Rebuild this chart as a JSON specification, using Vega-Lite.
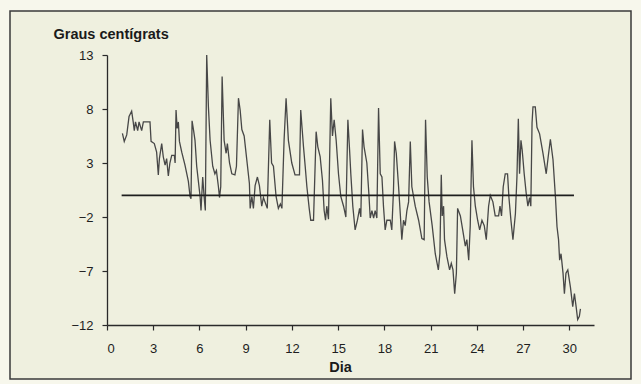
{
  "$schema": "https://vega.github.io/schema/vega-lite/v6.json",
  "width": 621,
  "height": 368,
  "padding": {"left": 10, "top": 11, "right": 10, "bottom": 5},
  "background": "#f7f7ec",
  "config": {
    "view": {"stroke": "#3a3a3a", "strokeWidth": 1.5, "fill": "#eff0df"},
    "font": "Liberation Sans",
    "axis": {
      "grid": false,
      "domainColor": "#2a2a2a",
      "domainWidth": 1.3,
      "tickColor": "#2a2a2a",
      "tickWidth": 1.2,
      "tickSize": 5,
      "labelColor": "#1e1e1e",
      "labelFont": "Liberation Sans",
      "labelFontSize": 13,
      "titleFont": "Liberation Sans",
      "titleFontSize": 14.5,
      "titleFontWeight": "bold",
      "titleColor": "#1a1a1a"
    }
  },
  "layer": [
    {
      "data": {
        "values": [
          {"dia": 1.00, "graus": 5.75}, {"dia": 1.12, "graus": 5.0}, {"dia": 1.28, "graus": 5.6}, {"dia": 1.43, "graus": 7.3},
          {"dia": 1.60, "graus": 7.8}, {"dia": 1.70, "graus": 6.8}, {"dia": 1.77, "graus": 6.0}, {"dia": 1.85, "graus": 6.8},
          {"dia": 1.99, "graus": 6.0}, {"dia": 2.08, "graus": 6.8}, {"dia": 2.25, "graus": 6.0}, {"dia": 2.36, "graus": 6.8},
          {"dia": 2.47, "graus": 6.8}, {"dia": 2.79, "graus": 6.8}, {"dia": 2.86, "graus": 5.0}, {"dia": 3.07, "graus": 4.8},
          {"dia": 3.22, "graus": 4.0}, {"dia": 3.33, "graus": 1.9}, {"dia": 3.40, "graus": 3.4}, {"dia": 3.55, "graus": 4.8},
          {"dia": 3.65, "graus": 3.6}, {"dia": 3.77, "graus": 2.8}, {"dia": 3.87, "graus": 3.4}, {"dia": 3.98, "graus": 1.8},
          {"dia": 4.08, "graus": 3.0}, {"dia": 4.20, "graus": 3.7}, {"dia": 4.37, "graus": 3.7}, {"dia": 4.42, "graus": 3.0},
          {"dia": 4.48, "graus": 7.9}, {"dia": 4.55, "graus": 6.2}, {"dia": 4.63, "graus": 6.8}, {"dia": 4.70, "graus": 5.0},
          {"dia": 4.85, "graus": 4.0}, {"dia": 5.06, "graus": 2.8}, {"dia": 5.28, "graus": 1.3}, {"dia": 5.39, "graus": -0.1},
          {"dia": 5.45, "graus": -0.3}, {"dia": 5.52, "graus": 6.9}, {"dia": 5.62, "graus": 6.0}, {"dia": 5.71, "graus": 5.1},
          {"dia": 5.82, "graus": 2.7}, {"dia": 6.04, "graus": -0.1}, {"dia": 6.10, "graus": -1.4}, {"dia": 6.21, "graus": 1.7},
          {"dia": 6.30, "graus": -0.1}, {"dia": 6.38, "graus": -1.4}, {"dia": 6.47, "graus": 13.0}, {"dia": 6.58, "graus": 8.2},
          {"dia": 6.69, "graus": 5.1}, {"dia": 6.86, "graus": 2.7}, {"dia": 7.00, "graus": 2.0}, {"dia": 7.10, "graus": 2.3},
          {"dia": 7.23, "graus": 0.8}, {"dia": 7.30, "graus": -0.2}, {"dia": 7.38, "graus": 0.8}, {"dia": 7.47, "graus": 11.0},
          {"dia": 7.60, "graus": 5.1}, {"dia": 7.73, "graus": 3.9}, {"dia": 7.81, "graus": 4.8}, {"dia": 7.95, "graus": 3.0},
          {"dia": 8.10, "graus": 2.0}, {"dia": 8.30, "graus": 1.9}, {"dia": 8.40, "graus": 2.7}, {"dia": 8.53, "graus": 9.0},
          {"dia": 8.64, "graus": 7.9}, {"dia": 8.75, "graus": 6.1}, {"dia": 8.90, "graus": 5.5}, {"dia": 9.07, "graus": 3.3},
          {"dia": 9.24, "graus": 1.1}, {"dia": 9.29, "graus": -1.2}, {"dia": 9.40, "graus": -0.1}, {"dia": 9.50, "graus": -1.2},
          {"dia": 9.61, "graus": 0.9}, {"dia": 9.76, "graus": 1.7}, {"dia": 9.89, "graus": 0.9}, {"dia": 10.04, "graus": -1.0},
          {"dia": 10.15, "graus": -0.2}, {"dia": 10.25, "graus": -0.6}, {"dia": 10.40, "graus": -1.2}, {"dia": 10.56, "graus": 7.0},
          {"dia": 10.68, "graus": 3.0}, {"dia": 10.80, "graus": 2.7}, {"dia": 10.97, "graus": -0.1}, {"dia": 11.12, "graus": -1.2},
          {"dia": 11.25, "graus": -0.8}, {"dia": 11.35, "graus": -1.2}, {"dia": 11.49, "graus": 5.1}, {"dia": 11.62, "graus": 9.0},
          {"dia": 11.77, "graus": 5.1}, {"dia": 11.99, "graus": 3.0}, {"dia": 12.20, "graus": 1.9}, {"dia": 12.49, "graus": 1.9},
          {"dia": 12.57, "graus": 7.9}, {"dia": 12.66, "graus": 6.2}, {"dia": 12.75, "graus": 4.5}, {"dia": 12.86, "graus": 2.7},
          {"dia": 12.97, "graus": 0.8}, {"dia": 13.12, "graus": -1.2}, {"dia": 13.22, "graus": -2.3}, {"dia": 13.40, "graus": -2.3},
          {"dia": 13.57, "graus": 5.9}, {"dia": 13.68, "graus": 4.5}, {"dia": 13.83, "graus": 3.6}, {"dia": 13.98, "graus": 1.4},
          {"dia": 14.09, "graus": -1.4}, {"dia": 14.18, "graus": -2.3}, {"dia": 14.26, "graus": -1.0}, {"dia": 14.37, "graus": -2.2},
          {"dia": 14.52, "graus": 9.0}, {"dia": 14.63, "graus": 5.5}, {"dia": 14.74, "graus": 7.0}, {"dia": 14.87, "graus": 5.1},
          {"dia": 15.02, "graus": 2.0}, {"dia": 15.17, "graus": -0.1}, {"dia": 15.35, "graus": -1.0}, {"dia": 15.50, "graus": -2.0},
          {"dia": 15.63, "graus": 7.0}, {"dia": 15.74, "graus": 4.2}, {"dia": 15.82, "graus": 2.0}, {"dia": 15.95, "graus": -1.0},
          {"dia": 16.10, "graus": -3.2}, {"dia": 16.25, "graus": -2.3}, {"dia": 16.39, "graus": -1.2}, {"dia": 16.47, "graus": -2.0},
          {"dia": 16.58, "graus": 6.1}, {"dia": 16.68, "graus": 4.5}, {"dia": 16.86, "graus": 3.0}, {"dia": 16.99, "graus": 0.2},
          {"dia": 17.08, "graus": -2.1}, {"dia": 17.19, "graus": -1.4}, {"dia": 17.30, "graus": -2.1}, {"dia": 17.40, "graus": -1.4},
          {"dia": 17.51, "graus": -2.1}, {"dia": 17.62, "graus": 8.1}, {"dia": 17.73, "graus": 2.0}, {"dia": 17.84, "graus": 1.7},
          {"dia": 17.94, "graus": -1.0}, {"dia": 18.05, "graus": -3.2}, {"dia": 18.16, "graus": -2.3}, {"dia": 18.38, "graus": -2.3},
          {"dia": 18.48, "graus": -3.2}, {"dia": 18.59, "graus": 0.5}, {"dia": 18.66, "graus": 5.0}, {"dia": 18.77, "graus": 3.9},
          {"dia": 18.92, "graus": 0.8}, {"dia": 19.03, "graus": -1.7}, {"dia": 19.13, "graus": -4.1}, {"dia": 19.24, "graus": -2.3},
          {"dia": 19.35, "graus": -2.8}, {"dia": 19.46, "graus": -1.4}, {"dia": 19.57, "graus": -0.6}, {"dia": 19.68, "graus": 5.0},
          {"dia": 19.78, "graus": 0.8}, {"dia": 20.00, "graus": -1.0}, {"dia": 20.22, "graus": -2.3}, {"dia": 20.43, "graus": -4.0},
          {"dia": 20.58, "graus": -4.1}, {"dia": 20.67, "graus": 7.0}, {"dia": 20.78, "graus": 1.7}, {"dia": 20.90, "graus": -0.6},
          {"dia": 21.10, "graus": -2.8}, {"dia": 21.30, "graus": -5.4}, {"dia": 21.50, "graus": -6.9}, {"dia": 21.60, "graus": -5.4},
          {"dia": 21.69, "graus": 1.9}, {"dia": 21.75, "graus": -1.9}, {"dia": 21.84, "graus": -1.0}, {"dia": 21.90, "graus": -4.1},
          {"dia": 22.06, "graus": -5.7}, {"dia": 22.23, "graus": -6.9}, {"dia": 22.34, "graus": -6.3}, {"dia": 22.45, "graus": -6.9},
          {"dia": 22.56, "graus": -9.1}, {"dia": 22.67, "graus": -7.2}, {"dia": 22.75, "graus": -1.2}, {"dia": 22.93, "graus": -1.9},
          {"dia": 23.08, "graus": -3.2}, {"dia": 23.25, "graus": -4.7}, {"dia": 23.35, "graus": -4.1}, {"dia": 23.47, "graus": -6.0},
          {"dia": 23.57, "graus": -2.8}, {"dia": 23.68, "graus": 5.1}, {"dia": 23.78, "graus": 0.8}, {"dia": 23.90, "graus": -1.0},
          {"dia": 24.05, "graus": -2.3}, {"dia": 24.18, "graus": -3.2}, {"dia": 24.33, "graus": -2.3}, {"dia": 24.48, "graus": -2.8},
          {"dia": 24.61, "graus": -4.1}, {"dia": 24.76, "graus": -1.0}, {"dia": 24.87, "graus": 0.0}, {"dia": 25.04, "graus": -0.6},
          {"dia": 25.19, "graus": -1.9}, {"dia": 25.41, "graus": -1.9}, {"dia": 25.50, "graus": -1.0}, {"dia": 25.60, "graus": -1.9},
          {"dia": 25.71, "graus": 0.8}, {"dia": 25.84, "graus": 2.0}, {"dia": 25.99, "graus": 2.0}, {"dia": 26.08, "graus": -0.2},
          {"dia": 26.21, "graus": -2.3}, {"dia": 26.34, "graus": -4.1}, {"dia": 26.50, "graus": -1.7}, {"dia": 26.60, "graus": 1.7},
          {"dia": 26.69, "graus": 7.1}, {"dia": 26.77, "graus": 2.0}, {"dia": 26.86, "graus": 5.1}, {"dia": 26.94, "graus": 4.2},
          {"dia": 27.07, "graus": 2.0}, {"dia": 27.20, "graus": 0.2}, {"dia": 27.31, "graus": -1.0}, {"dia": 27.42, "graus": -0.2},
          {"dia": 27.50, "graus": -1.0}, {"dia": 27.58, "graus": 6.7}, {"dia": 27.64, "graus": 8.2}, {"dia": 27.79, "graus": 8.2},
          {"dia": 27.90, "graus": 6.3}, {"dia": 28.07, "graus": 5.7}, {"dia": 28.29, "graus": 3.9}, {"dia": 28.50, "graus": 2.0},
          {"dia": 28.63, "graus": 3.6}, {"dia": 28.77, "graus": 5.2}, {"dia": 28.94, "graus": 3.3}, {"dia": 29.10, "graus": -0.2},
          {"dia": 29.20, "graus": -2.9}, {"dia": 29.30, "graus": -4.1}, {"dia": 29.37, "graus": -6.0}, {"dia": 29.46, "graus": -5.4},
          {"dia": 29.59, "graus": -7.2}, {"dia": 29.68, "graus": -9.1}, {"dia": 29.78, "graus": -7.2}, {"dia": 29.90, "graus": -6.9},
          {"dia": 30.07, "graus": -8.5}, {"dia": 30.22, "graus": -10.3}, {"dia": 30.33, "graus": -9.1}, {"dia": 30.44, "graus": -10.3},
          {"dia": 30.54, "graus": -11.5}, {"dia": 30.65, "graus": -11.2}, {"dia": 30.72, "graus": -10.5}
        ]
      },
      "mark": {"type": "line", "color": "#474747", "strokeWidth": 1.3, "interpolate": "linear"},
      "encoding": {
        "x": {
          "field": "dia", "type": "quantitative",
          "scale": {"domain": [0, 31.6], "range": [97, 584], "nice": false, "zero": false},
          "axis": {
            "title": "Dia", "values": [0, 3, 6, 9, 12, 15, 18, 21, 24, 27, 30],
            "offset": -54, "labelPadding": 12,
            "titleX": 330, "titleY": 46, "titleAlign": "center", "titleBaseline": "alphabetic"
          }
        },
        "y": {
          "field": "graus", "type": "quantitative",
          "scale": {"domain": [-12, 13], "range": [314, 44], "nice": false, "zero": false},
          "axis": {
            "title": "Graus centígrats", "values": [-12, -7, -2, 3, 8, 13],
            "offset": -97, "labelPadding": 9,
            "titleAngle": 0, "titleX": -54, "titleY": 27, "titleAlign": "left", "titleBaseline": "alphabetic"
          }
        }
      }
    },
    {
      "data": {"values": [{"x": 0.95, "x2": 30.3, "y": 0}]},
      "mark": {"type": "rule", "color": "#1e1e1e", "strokeWidth": 1.6},
      "encoding": {
        "x": {"field": "x", "type": "quantitative"},
        "x2": {"field": "x2"},
        "y": {"field": "y", "type": "quantitative"}
      }
    }
  ]
}
